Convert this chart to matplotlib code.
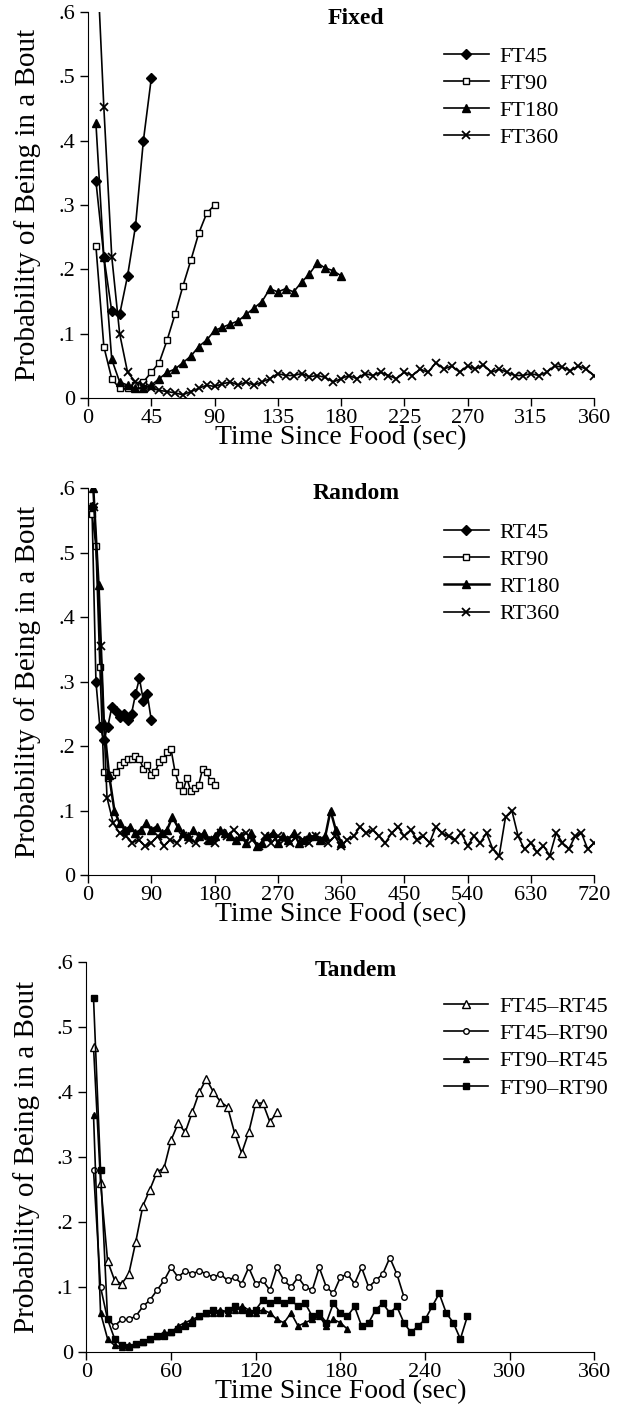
import matplotlib
matplotlib.use('Agg')
import matplotlib.pyplot as plt
import numpy as np

plt.rcParams['font.family'] = ['Liberation Serif', 'DejaVu Serif']

# ---- Fixed schedules (bins of 5.625 s) ----
ft45 = [0.337, 0.22, 0.135, 0.13, 0.19, 0.267, 0.40, 0.497]
ft90 = [0.236, 0.08, 0.03, 0.015, 0.015, 0.02, 0.025, 0.04, 0.055, 0.09,
        0.13, 0.174, 0.214, 0.256, 0.287, 0.30]
ft180 = [0.427, 0.22, 0.06, 0.025, 0.02, 0.015, 0.015, 0.02, 0.03, 0.04,
         0.045, 0.055, 0.065, 0.08, 0.09, 0.105, 0.11, 0.115, 0.12, 0.13,
         0.14, 0.15, 0.17, 0.165, 0.17, 0.165, 0.18, 0.193, 0.21, 0.202,
         0.198, 0.19]
ft360 = [0.72, 0.452, 0.22, 0.10, 0.04, 0.025, 0.02, 0.015, 0.012, 0.01,
         0.008, 0.005, 0.01, 0.015, 0.02, 0.018, 0.022, 0.025, 0.02, 0.025,
         0.02, 0.025, 0.03, 0.038, 0.035, 0.035, 0.038, 0.033, 0.035, 0.032,
         0.025, 0.03, 0.035, 0.03, 0.038, 0.035, 0.04, 0.035, 0.03, 0.04,
         0.035, 0.045, 0.04, 0.055, 0.045, 0.05, 0.04, 0.05, 0.045, 0.052,
         0.04, 0.045, 0.04, 0.035, 0.035, 0.038, 0.035, 0.04, 0.05, 0.048,
         0.042, 0.05, 0.045, 0.035]

# ---- Random schedules ----
rt45 = [0.57, 0.30, 0.23, 0.21, 0.23, 0.26, 0.255, 0.245, 0.25, 0.24,
        0.25, 0.28, 0.305, 0.27, 0.28, 0.24]
rt90 = [0.56, 0.51, 0.322, 0.16, 0.15, 0.155, 0.16, 0.17, 0.175, 0.18,
        0.18, 0.185, 0.18, 0.165, 0.17, 0.155, 0.16, 0.175, 0.18, 0.19,
        0.195, 0.16, 0.14, 0.13, 0.15, 0.13, 0.135, 0.14, 0.165, 0.16,
        0.145, 0.14]
rt180 = [0.60, 0.45, 0.235, 0.155, 0.10, 0.08, 0.07, 0.075, 0.065, 0.07,
         0.08, 0.07, 0.075, 0.065, 0.07, 0.09, 0.075, 0.065, 0.06, 0.07,
         0.06, 0.065, 0.055, 0.06, 0.07, 0.065, 0.06, 0.055, 0.06, 0.05,
         0.065, 0.045, 0.05, 0.06, 0.065, 0.05, 0.06, 0.055, 0.065, 0.05,
         0.055, 0.06, 0.06, 0.055, 0.06, 0.10, 0.07, 0.05]
rt360 = [0.57, 0.355, 0.12, 0.08, 0.065, 0.06, 0.05, 0.055, 0.045, 0.05,
         0.06, 0.045, 0.055, 0.05, 0.06, 0.055, 0.05, 0.06, 0.055, 0.05,
         0.065, 0.06, 0.07, 0.06, 0.065, 0.055, 0.045, 0.06, 0.05, 0.06,
         0.055, 0.05, 0.06, 0.055, 0.05, 0.06, 0.055, 0.05, 0.06, 0.045,
         0.055, 0.06, 0.075, 0.065, 0.07, 0.06, 0.05, 0.065, 0.075, 0.06,
         0.07, 0.055, 0.06, 0.05, 0.075, 0.065, 0.06, 0.055, 0.065, 0.045,
         0.06, 0.05, 0.065, 0.04, 0.03, 0.09, 0.10, 0.06, 0.04, 0.05,
         0.035, 0.045, 0.03, 0.065, 0.05, 0.04, 0.06, 0.065, 0.04, 0.05]

# ---- Tandem schedules (bins of 5 s) ----
ft45_rt45 = [0.47, 0.26, 0.14, 0.11, 0.105, 0.12, 0.17, 0.225, 0.25, 0.277,
             0.283, 0.326, 0.352, 0.338, 0.369, 0.40, 0.42, 0.40, 0.385, 0.377,
             0.337, 0.306, 0.338, 0.383, 0.383, 0.354, 0.369]
ft45_rt90 = [0.28, 0.10, 0.05, 0.04, 0.05, 0.05, 0.055, 0.07, 0.08, 0.095,
             0.11, 0.13, 0.115, 0.125, 0.12, 0.125, 0.12, 0.115, 0.12, 0.11,
             0.115, 0.105, 0.13, 0.105, 0.11, 0.095, 0.13, 0.11, 0.10, 0.115,
             0.10, 0.095, 0.13, 0.10, 0.09, 0.115, 0.12, 0.105, 0.13, 0.10,
             0.11, 0.12, 0.145, 0.12, 0.085]
ft90_rt45 = [0.365, 0.06, 0.02, 0.01, 0.008, 0.01, 0.012, 0.015, 0.02, 0.025,
             0.03, 0.03, 0.04, 0.045, 0.05, 0.055, 0.06, 0.06, 0.065, 0.06,
             0.065, 0.07, 0.065, 0.06, 0.065, 0.06, 0.05, 0.045, 0.06, 0.04,
             0.045, 0.05, 0.055, 0.04, 0.05, 0.045, 0.035]
ft90_rt90 = [0.545, 0.28, 0.05, 0.02, 0.01, 0.008, 0.012, 0.015, 0.02, 0.025,
             0.025, 0.03, 0.035, 0.04, 0.045, 0.055, 0.06, 0.065, 0.06, 0.065,
             0.07, 0.065, 0.06, 0.065, 0.08, 0.075, 0.08, 0.075, 0.08, 0.07,
             0.075, 0.055, 0.06, 0.045, 0.075, 0.06, 0.055, 0.07, 0.04, 0.045,
             0.065, 0.075, 0.06, 0.07, 0.045, 0.03, 0.04, 0.05, 0.07, 0.09,
             0.06, 0.045, 0.02, 0.055]

ytick_vals = [0, 0.1, 0.2, 0.3, 0.4, 0.5, 0.6]
ytick_labels = ['0', '.1', '.2', '.3', '.4', '.5', '.6']


def times(vals, step):
    return step * np.arange(1, len(vals) + 1)


def style_axes(ax, xmax, xstep):
    ax.set_xlim(0, xmax)
    ax.set_ylim(0, 0.6)
    ax.set_xticks(np.arange(0, xmax + 1, xstep))
    ax.set_yticks(ytick_vals)
    ax.set_yticklabels(ytick_labels)
    ax.spines['top'].set_visible(False)
    ax.spines['right'].set_visible(False)
    ax.tick_params(direction='out', length=6, labelsize=16, width=1)
    ax.tick_params(axis='x', pad=2)
    ax.set_xlabel('Time Since Food (sec)', fontsize=20, labelpad=-2)
    ax.set_ylabel('Probability of Being in a Bout', fontsize=21, labelpad=12)


fig = plt.figure(figsize=(6.31, 14.2), dpi=100)
ax1 = fig.add_axes([0.1395, 0.7197, 0.802, 0.2718])
ax2 = fig.add_axes([0.1395, 0.3838, 0.802, 0.2725])
ax3 = fig.add_axes([0.1370, 0.0479, 0.805, 0.2746])

k = dict(color='black', lw=1.2)
open_ = dict(markerfacecolor='white', markeredgecolor='black', markeredgewidth=1)

# Fixed
ax1.plot(times(ft45, 5.625), ft45, marker='D', ms=5, label='FT45', **k)
ax1.plot(times(ft90, 5.625), ft90, marker='s', ms=5, label='FT90', **open_, **k)
ax1.plot(times(ft180, 5.625), ft180, marker='^', ms=6, label='FT180', **k)
ax1.plot(times(ft360, 5.625), ft360, marker='x', ms=6, mew=1.3, label='FT360', **k)
style_axes(ax1, 360, 45)
ax1.text(0.53, 0.984, 'Fixed', transform=ax1.transAxes, ha='center', va='center',
         fontsize=17, fontweight='bold')

# Random
ax2.plot(times(rt45, 5.625), rt45, marker='D', ms=5, label='RT45', **k)
ax2.plot(times(rt90, 5.625), rt90, marker='s', ms=5, label='RT90', **open_, **k)
ax2.plot(times(rt180, 7.5), rt180, marker='^', ms=6, label='RT180', color='black', lw=1.8)
ax2.plot(times(rt360, 9.0), rt360, marker='x', ms=6, mew=1.3, label='RT360', **k)
style_axes(ax2, 720, 90)
ax2.text(0.53, 0.987, 'Random', transform=ax2.transAxes, ha='center', va='center',
         fontsize=17, fontweight='bold')

# Tandem
ax3.plot(times(ft45_rt45, 5), ft45_rt45, marker='^', ms=6, label='FT45\u2013RT45', **open_, **k)
ax3.plot(times(ft45_rt90, 5), ft45_rt90, marker='o', ms=4, label='FT45\u2013RT90', **open_, **k)
ax3.plot(times(ft90_rt45, 5), ft90_rt45, marker='^', ms=5, label='FT90\u2013RT45', **k)
ax3.plot(times(ft90_rt90, 5), ft90_rt90, marker='s', ms=4, label='FT90\u2013RT90', **k)
style_axes(ax3, 360, 60)
ax3.text(0.53, 0.979, 'Tandem', transform=ax3.transAxes, ha='center', va='center',
         fontsize=17, fontweight='bold')

for ax in (ax1, ax2, ax3):
    ax.legend(loc='upper left', bbox_to_anchor=(0.686, 0.935), frameon=False,
              fontsize=16, handlelength=2.0, handletextpad=0.5,
              labelspacing=0.3, borderaxespad=0)

fig.savefig('out.png', dpi=100)
